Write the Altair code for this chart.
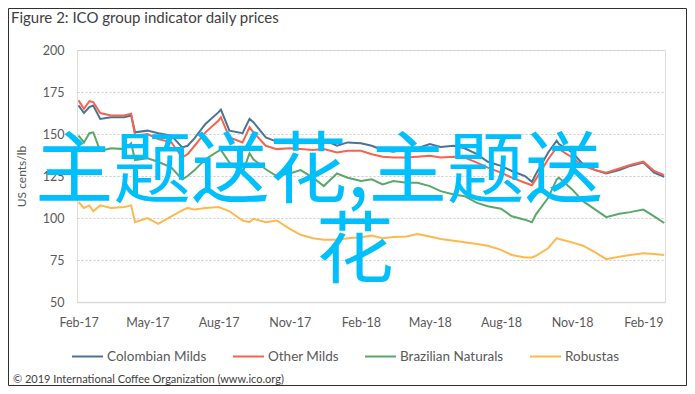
import altair as alt
import pandas as pd

# ---------------- data ----------------
dates = [
    "2017-02-01", "2017-02-08", "2017-02-15", "2017-02-20", "2017-03-01", "2017-03-15",
    "2017-04-01", "2017-04-10", "2017-04-15", "2017-05-01", "2017-05-15", "2017-06-01",
    "2017-06-15", "2017-06-22", "2017-07-01", "2017-07-15", "2017-08-01", "2017-08-04",
    "2017-08-15", "2017-09-01", "2017-09-10", "2017-09-15", "2017-10-01", "2017-10-15",
    "2017-11-01", "2017-11-15", "2017-12-01", "2017-12-15",
    "2018-01-01", "2018-01-15", "2018-02-01", "2018-02-15", "2018-03-01", "2018-03-15",
    "2018-04-01", "2018-04-15", "2018-05-01", "2018-05-15", "2018-06-01", "2018-06-15",
    "2018-07-01", "2018-07-15", "2018-08-01", "2018-08-15", "2018-09-01", "2018-09-10",
    "2018-09-15", "2018-10-01", "2018-10-12", "2018-10-15", "2018-11-01", "2018-11-15",
    "2018-12-01", "2018-12-15",
    "2019-01-01", "2019-01-15", "2019-02-01", "2019-02-15", "2019-02-28",
]

colombian_milds = [
    167, 162.5, 166, 167, 159, 160, 160, 161, 151, 152, 150.5, 149, 142, 143, 147.5, 156,
    163, 164.5, 152, 150.5, 159, 157, 148, 145.5, 144.5, 146, 145, 146.5,
    143, 145, 144.5, 143, 140.5, 139.5, 141, 141.5, 144, 142.3, 143, 141.5, 138, 133.5,
    131, 128, 125, 121.5, 126, 139, 146, 144, 139, 132, 128.5, 126.5,
    128.5, 131, 133, 127, 124.5,
]
other_milds = [
    170, 165, 169.5, 169, 162.5, 161, 161, 162, 149, 150, 147, 145, 136, 138, 143, 151,
    158, 160, 148, 145, 154, 151, 143, 141, 141.5, 141, 140.5, 141,
    139, 140, 140, 138, 136.5, 136, 136, 136.5, 137, 136, 136.5, 136, 133, 130,
    127, 124, 121, 119.5, 123, 135, 142, 141, 136, 131, 128.5, 127,
    129.5, 131.5, 133.5, 128, 125.5,
]
brazilian_naturals = [
    149, 145, 150.5, 151, 140, 141.5, 141, 144.5, 134.5, 135.5, 133.5, 130, 123, 125, 128.5, 135,
    140, 140.5, 133, 127, 138.5, 135, 129, 125, 126.5, 128.5, 124, 119,
    126.5, 124, 122, 123, 120, 122, 121, 121, 119, 116, 114, 113, 109, 107,
    105.5, 101, 99, 97.5, 102, 112, 123, 124, 117, 110, 105, 100.5,
    102.5, 103.5, 105, 101, 97,
]
robustas = [
    109.5, 106, 107.5, 104, 107.5, 106, 106.5, 107.5, 97.5, 100, 96.5, 101, 104.5, 106, 105, 106,
    106.5, 106, 104, 98.5, 97.5, 99.5, 97.5, 98.5, 93.5, 90, 88, 87,
    87, 88, 88.5, 89.5, 88, 88.7, 89, 90.5, 89, 87.5, 86.5, 85.5, 84.5, 83.5,
    81, 78, 76.5, 76.5, 77.5, 82, 88, 87.5, 85.5, 83.5, 79.5, 75.5,
    77, 78, 79, 78.5, 78,
]

series_names = ["Colombian Milds", "Other Milds", "Brazilian Naturals", "Robustas"]
series_colors = ["#4A7394", "#F4644F", "#5AA76A", "#FFB84D"]
y_ticks = [50, 75, 100, 125, 150, 175, 200]
x_tick_months = [(2017, 2), (2017, 5), (2017, 8), (2017, 11), (2018, 2),
                 (2018, 5), (2018, 8), (2018, 11), (2019, 2)]

title_text = ["Figure 2: ICO group indicator daily prices"]
footer_text = ["\u00a9 2019 International Coffee Organization (www.ico.org)"]
overlay_line1 = ["主题送花,主题送"]
overlay_line2 = ["花"]

rows = []
for name, vals in zip(series_names, [colombian_milds, other_milds, brazilian_naturals, robustas]):
    for d, v in zip(dates, vals):
        rows.append({"date": d, "series": name, "price": v})
df = pd.DataFrame(rows)

FONT = "Lato"
GREY = "#595959"

x_enc = alt.X(
    "date:T",
    scale=alt.Scale(
        type="utc",
        domain=[alt.DateTime(year=2017, month=1, date=30, utc=True),
                alt.DateTime(year=2019, month=3, date=1, utc=True)],
    ),
    axis=alt.Axis(
        title=None,
        labelExpr="utcFormat(datum.value, '%b-%y')",
        values=[alt.DateTime(year=y, month=m, date=1, utc=True) for y, m in x_tick_months],
        ticks=False, grid=False, domain=True, domainColor="#D9D9D9", domainWidth=1.5,
        labelPadding=14, labelFontSize=12.5, labelColor=GREY, labelFont=FONT,
    ),
)
y_enc = alt.Y(
    "price:Q",
    scale=alt.Scale(domain=[50, 200], nice=False, zero=False),
    axis=alt.Axis(
        title="US cents/lb", values=y_ticks, ticks=False, domain=False,
        grid=True, gridDash=[2, 2], gridColor="#CCCCCC", gridWidth=1,
        labelPadding=13, labelFontSize=12.5, labelColor=GREY, labelFont=FONT,
        titlePadding=14, titleFontSize=12, titleFontWeight="normal",
        titleColor=GREY, titleFont=FONT,
    ),
)
color_enc = alt.Color(
    "series:N",
    scale=alt.Scale(domain=series_names, range=series_colors),
    legend=alt.Legend(
        title=None, orient="none", legendX=-6, legendY=290, direction="horizontal",
        symbolType="stroke", symbolSize=961, symbolStrokeWidth=2,
        labelFontSize=13.5, labelFont=FONT, labelColor=GREY, labelOffset=3,
        columnPadding=22,
    ),
)

lines = alt.Chart(df).mark_line(strokeWidth=2).encode(
    x=x_enc, y=y_enc, color=color_enc, order="date:T"
)

title = alt.Chart(pd.DataFrame({"t": title_text})).mark_text(
    align="left", baseline="middle", fontSize=15, font=FONT, color="#404040"
).encode(x=alt.value(-66), y=alt.value(-32), text="t:N")

footer = alt.Chart(pd.DataFrame({"t": footer_text})).mark_text(
    align="left", baseline="middle", fontSize=11, font=FONT, color="#404040"
).encode(x=alt.value(-64), y=alt.value(330), text="t:N")

wm1 = alt.Chart(pd.DataFrame({"t": overlay_line1})).mark_text(
    align="center", baseline="middle", fontSize=78, font="Noto Sans CJK SC", color="#00BFFF"
).encode(x=alt.value(242), y=alt.value(124), text="t:N")

wm2 = alt.Chart(pd.DataFrame({"t": overlay_line2})).mark_text(
    align="center", baseline="middle", fontSize=78, font="Noto Sans CJK SC", color="#00BFFF"
).encode(x=alt.value(278), y=alt.value(204), text="t:N")

frame = alt.Chart(pd.DataFrame({"f": [1]})).mark_rect(
    fillOpacity=0, stroke="#303030", strokeWidth=1
).encode(x=alt.value(-68.5), x2=alt.value(609.5), y=alt.value(-41.5), y2=alt.value(335.5))

chart = alt.layer(lines, wm1, wm2, title, footer, frame).properties(
    width=588, height=252,
    autosize=alt.AutoSizeParams(type="none"),
    padding={"left": 69, "top": 42, "right": 22, "bottom": 84},
).configure_view(stroke=None).configure(background="white")

chart.save("out.html", embed_options={"renderer": "svg", "actions": False})
